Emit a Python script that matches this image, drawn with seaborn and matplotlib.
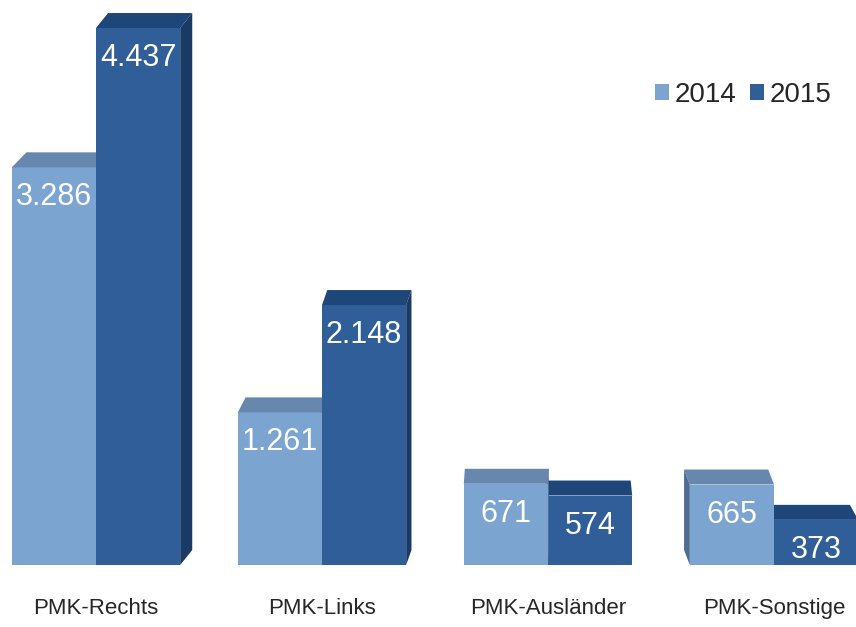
import seaborn as sns
import pandas as pd
import matplotlib.pyplot as plt
from matplotlib.patches import Polygon, Patch

categories = ['PMK-Rechts', 'PMK-Links', 'PMK-Ausländer', 'PMK-Sonstige']
years = ['2014', '2015']
values_2014 = [3286, 1261, 671, 665]
values_2015 = [4437, 2148, 574, 373]

front = {'2014': '#7BA4D0', '2015': '#2F5E98'}
top = {'2014': '#6887AF', '2015': '#1E4678'}
side = {'2014': '#4E6C94', '2015': '#193A64'}

df = pd.DataFrame({
    'category': categories * 2,
    'year': ['2014'] * 4 + ['2015'] * 4,
    'value': values_2014 + values_2015,
})

sns.set_style('white')
plt.rcParams['font.family'] = ['Liberation Sans', 'DejaVu Sans']

fig = plt.figure(figsize=(8.56, 6.27), dpi=100)
ax = fig.add_axes([0, 62 / 627, 1, 565 / 627])

sns.barplot(data=df, x='category', y='value', hue='year', palette=front,
            width=0.745, saturation=1, linewidth=0, ax=ax, legend=False)

px_x = 1 / 226          # data units per pixel (x)
px_y = 8.263            # data units per pixel (y)
ax.set_xlim(-96 * px_x, (856 - 96) * px_x)
ax.set_ylim(0, 565 * px_y)

dy = 15 * px_y
vp_x = 540 * px_x - 96 * px_x   # vanishing point in data coords

bars = [p for p in ax.patches if p.get_height() > 0]
for p in bars:
    x0, w, h = p.get_x(), p.get_width(), p.get_height()
    x1 = x0 + w
    xc = x0 + w / 2
    fc = p.get_facecolor()
    yr = '2014' if abs(fc[0] - 0x7B / 255) < 0.02 else '2015'
    dx = (vp_x - xc) * 0.03
    # painter order: bars nearer the vanishing point are drawn later
    z = 2 + (xc if dx > 0 else -xc) * 0.01
    p.set_zorder(z)
    top_face = Polygon([(x0, h), (x1, h), (x1 + dx, h + dy), (x0 + dx, h + dy)],
                       closed=True, facecolor=top[yr], edgecolor='none', zorder=z)
    ax.add_patch(top_face)
    xs = x1 if dx > 0 else x0
    side_face = Polygon([(xs, 0), (xs + dx, dy), (xs + dx, h + dy), (xs, h)],
                        closed=True, facecolor=side[yr], edgecolor='none', zorder=z)
    ax.add_patch(side_face)
    label = f'{int(round(h)):,}'.replace(',', '.')
    ax.text(xc, h - 30 * px_y, label, ha='center', va='center',
            color='white', fontsize=22, zorder=10)

ax.set_xlabel('')
ax.set_ylabel('')
ax.set_yticks([])
ax.tick_params(axis='x', length=0, pad=24, labelsize=16)
for s in ax.spines.values():
    s.set_visible(False)

handles = [Patch(facecolor=front[y], edgecolor='none') for y in years]
ax.legend(handles, years, loc='center left', bbox_to_anchor=(655 / 856, 1 - 95 / 565),
          ncol=2, frameon=False, fontsize=20, handlelength=0.5, handleheight=0.5,
          handletextpad=0.2, columnspacing=0.5, borderpad=0, borderaxespad=0)

fig.savefig('out.png', dpi=100)
